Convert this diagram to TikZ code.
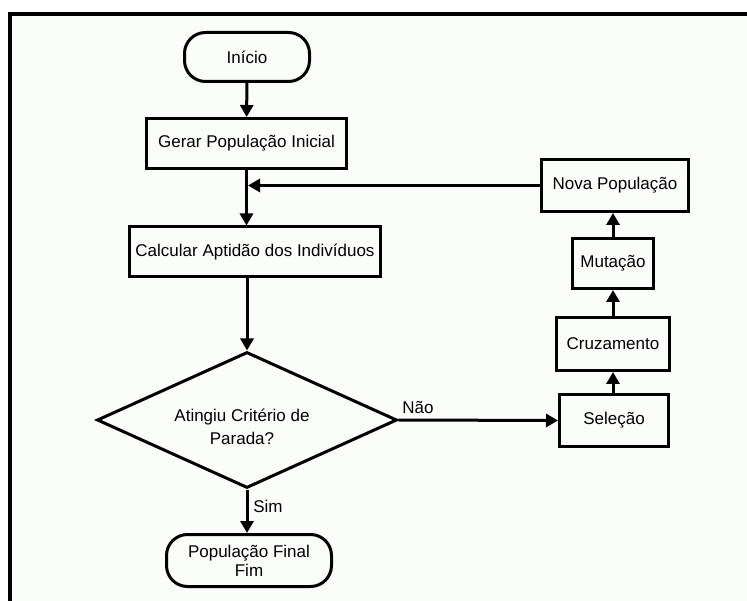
\documentclass[tikz,border=0pt]{standalone}
\usepackage{fontspec}
\setmainfont{Liberation Sans}
\usetikzlibrary{shapes.geometric,arrows.meta}

\definecolor{paper}{RGB}{251,253,251}

\tikzset{
  every node/.style={font=\fontsize{17}{19}\selectfont},
  box/.style={draw, line width=3pt, fill=paper, inner sep=0pt, align=center},
  terminal/.style={box, rounded corners=21pt},
  decision/.style={draw, line width=3pt, fill=paper, diamond, inner sep=0pt},
  flow/.style={line width=3pt, -{Triangle[length=12pt,width=13pt]}},
  tag/.style={inner sep=0pt, anchor=center}
}

\begin{document}
\begin{tikzpicture}[x=1pt, y=-1pt]
  % canvas and frame
  \useasboundingbox (0,0) rectangle (747,601);
  \fill[white] (0,0) rectangle (747,601);
  \fill[paper] (10,14) rectangle (747,601);
  \draw[line width=4.5pt] (747,14) -- (10,14) -- (10,601);

  % main column
  \node[terminal, minimum width=125pt, minimum height=49pt] (inicio) at (247,57) {Início};
  \node[box, minimum width=200pt, minimum height=50pt] (gerar) at (246.5,143.5) {Gerar População Inicial};
  \node[box, minimum width=251pt, minimum height=50pt] (calc) at (255,252) {Calcular Aptidão dos Indivíduos};
  \node[decision, minimum width=300pt, minimum height=136pt] (crit) at (247,420) {};
  \node[tag, align=center] (crittext) at (242,427) {Atingiu Critério de\\[4pt]Parada?};
  \node[terminal, minimum width=165pt, minimum height=52pt] (fim) at (249,560.5) {População Final\\Fim};

  % loop column
  \node[box, minimum width=147pt, minimum height=52pt] (nova) at (615,185.5) {Nova População};
  \node[box, minimum width=81pt, minimum height=50pt] (mut) at (613,263.5) {Mutação};
  \node[box, minimum width=113pt, minimum height=53pt] (cruz) at (613,344) {Cruzamento};
  \node[box, minimum width=109pt, minimum height=52pt] (sel) at (614,420.5) {Seleção};

  % join point on the main column
  \coordinate (merge) at (gerar.south |- nova.west);

  % connectors
  \draw[flow] (inicio) -- (gerar);
  \draw[flow] (gerar.south) -- (gerar.south |- calc.north);
  \draw[flow, shorten >=1.5pt] (nova.west) -- (merge);
  \draw[flow] (calc.south -| crit.north) -- (crit.north);
  \draw[flow] (crit.south) -- (fim.north -| crit.south);
  \draw[flow] (crit.east) -- (sel.west);
  \draw[flow] (sel.north -| mut.south) -- (cruz.south -| mut.south);
  \draw[flow] (cruz.north -| mut.south) -- (mut.south);
  \draw[flow] (mut.north) -- (nova.south -| mut.north);

  % branch labels
  \node[tag] (nao) at (418,407) {Não};
  \node[tag] (sim) at (268,506) {Sim};
\end{tikzpicture}
\end{document}
